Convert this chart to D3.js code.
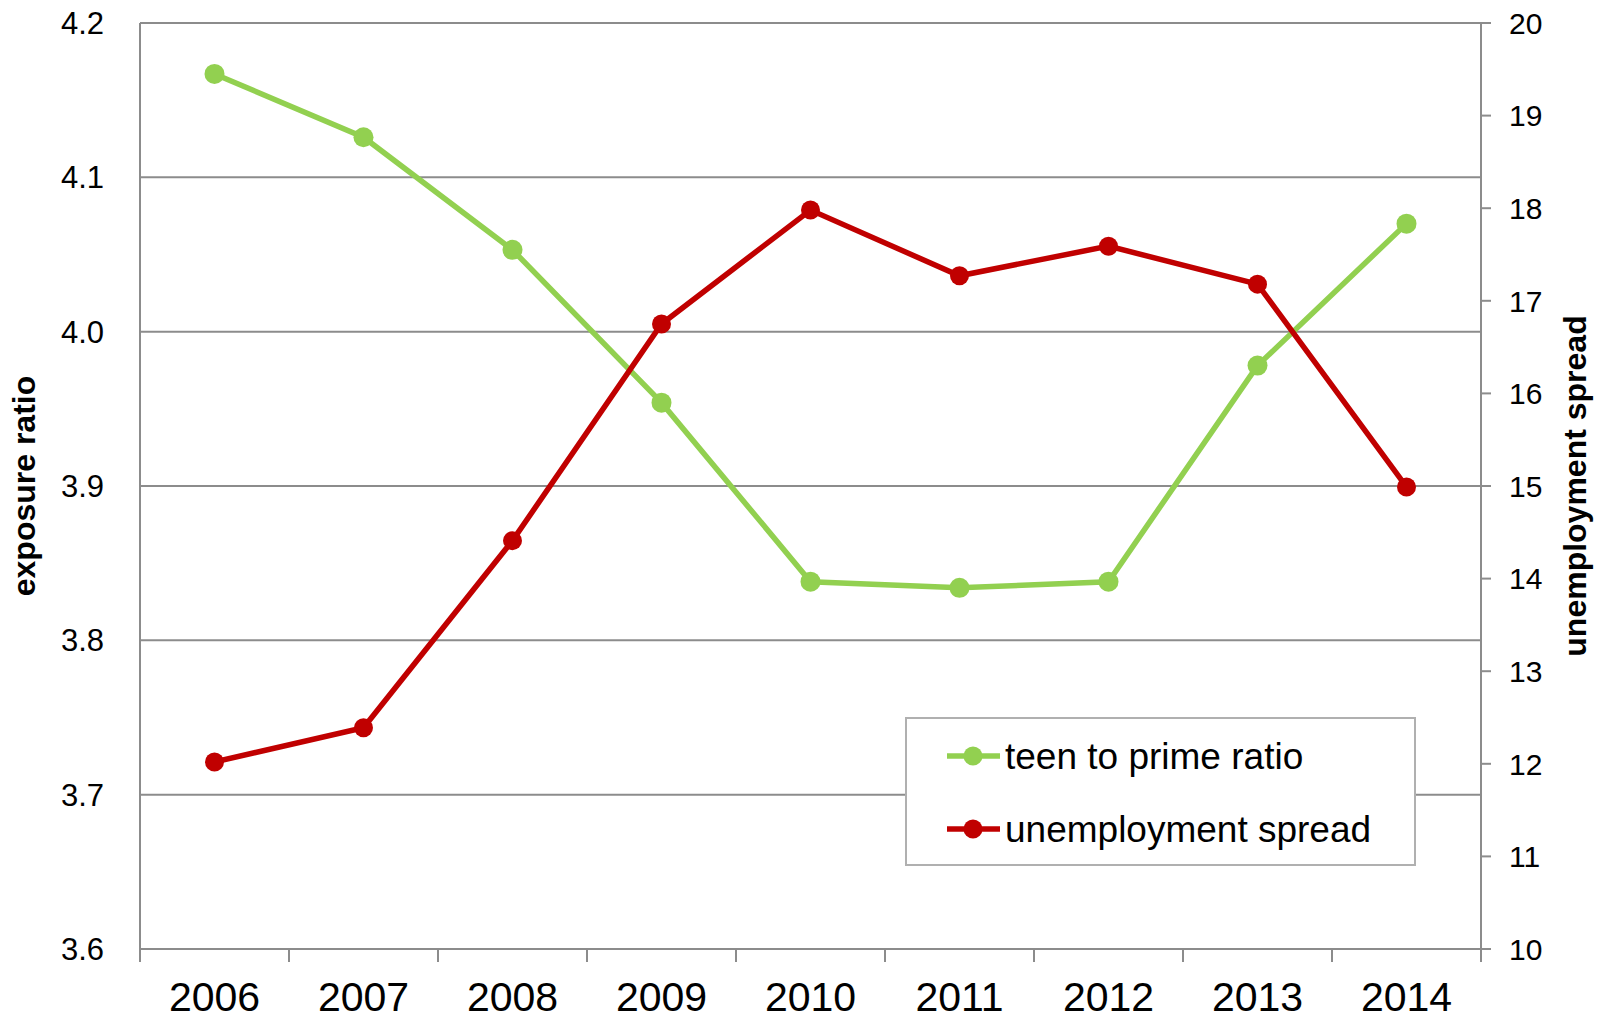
<!DOCTYPE html>
<html>
<head>
<meta charset="utf-8">
<script src="https://cdn.jsdelivr.net/npm/d3@7"></script>
<style>
  body { margin: 0; background: #fff; }
  svg { display: block; font-family: "Liberation Sans", Arial, sans-serif; }
</style>
</head>
<body>
<div id="chart"></div>
<script>
const years = ["2006", "2007", "2008", "2009", "2010", "2011", "2012", "2013", "2014"];
const teenToPrime = [4.167, 4.126, 4.053, 3.954, 3.838, 3.834, 3.838, 3.978, 4.070];
const unempSpread = [12.02, 12.39, 14.41, 16.75, 17.98, 17.27, 17.59, 17.18, 14.99];
const leftTicks = [3.6, 3.7, 3.8, 3.9, 4.0, 4.1, 4.2];
const rightTicks = [10, 11, 12, 13, 14, 15, 16, 17, 18, 19, 20];
const seriesNames = ["teen to prime ratio", "unemployment spread"];

const W = 1602, H = 1020;
const margin = { top: 23, right: 121, bottom: 71, left: 140 };
const green = "#92d050", red = "#c00000", grid = "#8c8c8c";

const svg = d3.select("#chart").append("svg")
  .attr("width", W).attr("height", H);

const x = d3.scaleBand().domain(years).range([margin.left, W - margin.right]).padding(0);
const yL = d3.scaleLinear().domain([3.6, 4.2]).range([H - margin.bottom, margin.top]);
const yR = d3.scaleLinear().domain([10, 20]).range([H - margin.bottom, margin.top]);
const cx = d => x(d) + x.bandwidth() / 2;
const x0 = margin.left, x1 = W - margin.right, yb = H - margin.bottom;

// gridlines from left axis values
svg.append("g").selectAll("line").data(leftTicks).enter().append("line")
  .attr("x1", x0).attr("x2", (d, i) => (i === 0 || i === leftTicks.length - 1) ? x1 + 10 : x1)
  .attr("y1", d => yL(d)).attr("y2", d => yL(d))
  .attr("stroke", grid).attr("stroke-width", 2);

// left axis line (no ticks)
svg.append("line").attr("x1", x0).attr("x2", x0)
  .attr("y1", margin.top).attr("y2", yb + 13)
  .attr("stroke", grid).attr("stroke-width", 2);

// right axis line + ticks
svg.append("line").attr("x1", x1).attr("x2", x1)
  .attr("y1", margin.top).attr("y2", yb + 13)
  .attr("stroke", grid).attr("stroke-width", 2);
svg.append("g").selectAll("line").data(rightTicks).enter().append("line")
  .attr("x1", x1).attr("x2", x1 + 10)
  .attr("y1", d => yR(d)).attr("y2", d => yR(d))
  .attr("stroke", grid).attr("stroke-width", 2);

// bottom category boundary ticks
svg.append("g").selectAll("line").data(years.slice(1)).enter().append("line")
  .attr("x1", d => x(d)).attr("x2", d => x(d))
  .attr("y1", yb).attr("y2", yb + 13)
  .attr("stroke", grid).attr("stroke-width", 2);

// tick labels
svg.append("g").selectAll("text").data(leftTicks).enter().append("text")
  .attr("x", 104).attr("y", d => yL(d)).attr("dy", "0.36em")
  .attr("text-anchor", "end").attr("font-size", 31).attr("fill", "#000")
  .text(d => d.toFixed(1));
svg.append("g").selectAll("text").data(rightTicks).enter().append("text")
  .attr("x", 1509).attr("y", d => yR(d)).attr("dy", "0.36em")
  .attr("text-anchor", "start").attr("font-size", 30).attr("fill", "#000")
  .text(d => d);
svg.append("g").selectAll("text").data(years).enter().append("text")
  .attr("x", d => cx(d)).attr("y", 1011)
  .attr("text-anchor", "middle").attr("font-size", 41).attr("fill", "#000")
  .text(d => d);

// axis titles
svg.append("text")
  .attr("transform", `translate(35,${(margin.top + yb) / 2}) rotate(-90)`)
  .attr("text-anchor", "middle").attr("font-size", 32).attr("font-weight", "bold")
  .text("exposure ratio");
svg.append("text")
  .attr("transform", `translate(1586,${(margin.top + yb) / 2}) rotate(-90)`)
  .attr("text-anchor", "middle").attr("font-size", 32).attr("font-weight", "bold")
  .text("unemployment spread");

// series
const lineL = d3.line().x((d, i) => cx(years[i])).y(d => yL(d));
const lineR = d3.line().x((d, i) => cx(years[i])).y(d => yR(d));

svg.append("path").datum(teenToPrime).attr("d", lineL)
  .attr("fill", "none").attr("stroke", green).attr("stroke-width", 5.5);
svg.append("g").selectAll("circle").data(teenToPrime).enter().append("circle")
  .attr("cx", (d, i) => cx(years[i])).attr("cy", d => yL(d)).attr("r", 10).attr("fill", green);

svg.append("path").datum(unempSpread).attr("d", lineR)
  .attr("fill", "none").attr("stroke", red).attr("stroke-width", 5.5);
svg.append("g").selectAll("circle").data(unempSpread).enter().append("circle")
  .attr("cx", (d, i) => cx(years[i])).attr("cy", d => yR(d)).attr("r", 9.5).attr("fill", red);

// legend
const lg = svg.append("g");
lg.append("rect").attr("x", 906).attr("y", 718).attr("width", 509).attr("height", 147)
  .attr("fill", "#fff").attr("stroke", "#b0b0b0").attr("stroke-width", 2);
const legendColors = [green, red];
const rows = lg.selectAll("g.row").data(seriesNames).enter().append("g")
  .attr("transform", (d, i) => `translate(0,${756 + i * 73})`);
rows.append("line").attr("x1", 947).attr("x2", 1000).attr("y1", 0).attr("y2", 0)
  .attr("stroke", (d, i) => legendColors[i]).attr("stroke-width", 5.5);
rows.append("circle").attr("cx", 973).attr("cy", 0).attr("r", 9.5)
  .attr("fill", (d, i) => legendColors[i]);
rows.append("text").attr("x", 1005).attr("y", 0).attr("dy", "0.36em")
  .attr("font-size", 37).attr("fill", "#000").text(d => d);
</script>
</body>
</html>
